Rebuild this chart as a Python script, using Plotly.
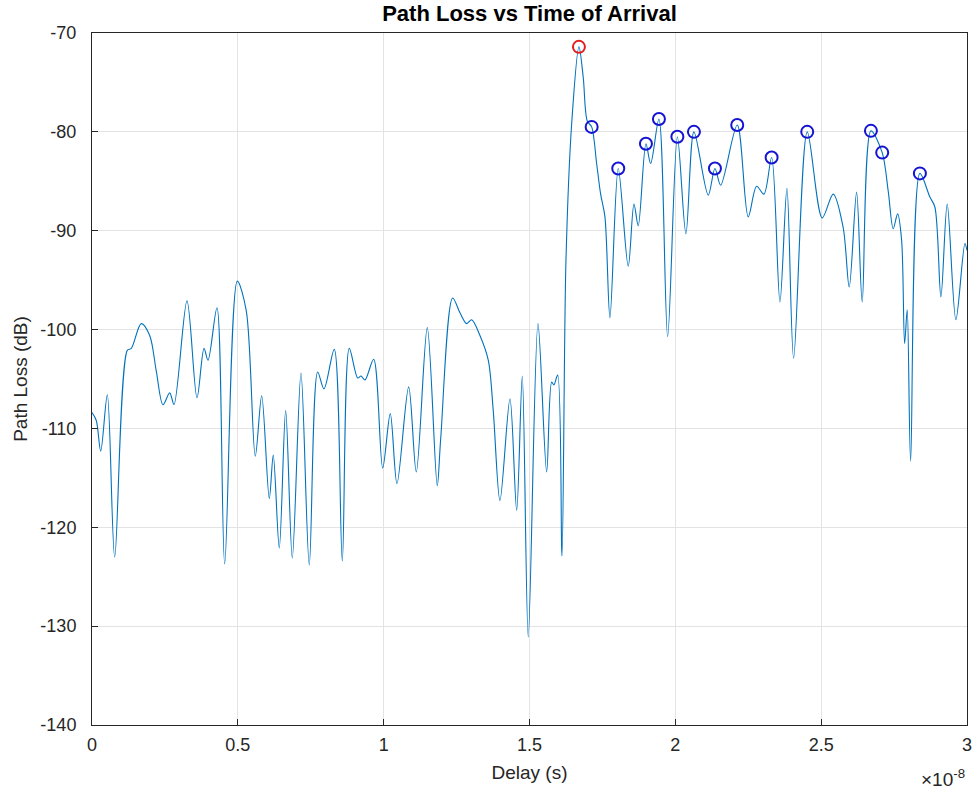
import numpy as np
import plotly.graph_objects as go

# Delay in nanoseconds, path loss in dB
delay_ns = [0.000, 0.147, 0.298, 0.525, 0.778, 1.210, 1.347, 1.690, 1.978, 2.204,
            2.434, 2.664, 2.811, 3.257, 3.600, 3.840, 3.977, 4.285, 4.549, 4.981,
            5.290, 5.598, 5.818, 6.078, 6.215, 6.421, 6.640, 6.867, 7.165, 7.449,
            7.737, 7.953, 8.306, 8.581, 8.821, 9.109, 9.222, 9.359, 9.657, 9.966,
            10.226, 10.456, 10.857, 11.118, 11.495, 11.837, 11.954, 12.365, 12.616, 12.845,
            13.017, 13.301, 13.586, 13.757, 13.987, 14.330, 14.560, 14.752, 14.957, 15.290,
            15.588, 15.760, 15.838, 15.965, 16.113, 16.250, 16.445, 16.695, 16.843, 16.980,
            17.131, 17.302, 17.439, 17.587, 17.758, 18.043, 18.385, 18.581, 18.728, 18.992,
            19.153, 19.438, 19.736, 20.070, 20.363, 20.638, 21.128, 21.358, 21.553, 22.122,
            22.499, 22.787, 23.037, 23.301, 23.586, 23.826, 24.056, 24.522, 25.036, 25.413,
            25.756, 25.962, 26.215, 26.407, 26.706, 27.093, 27.299, 27.470, 27.621, 27.759,
            27.861, 27.950, 28.067, 28.385, 28.728, 28.899, 29.105, 29.321, 29.619, 29.928,
            30.000]
path_loss_db = [-108.4, -109.2, -112.3, -106.6, -123.0, -102.1, -101.9, -99.4, -100.6, -104.2,
                -107.6, -106.4, -107.6, -97.1, -106.9, -101.9, -103.1, -97.8, -123.7, -95.1,
                -98.1, -112.8, -106.7, -117.1, -112.7, -122.1, -108.2, -123.1, -104.4, -123.8,
                -104.3, -106.0, -102.0, -123.4, -101.9, -104.9, -104.7, -105.1, -103.0, -114.0,
                -108.5, -115.6, -105.8, -114.4, -99.8, -115.8, -111.1, -96.8, -98.3, -99.4,
                -99.0, -100.6, -103.1, -108.2, -117.3, -107.0, -118.3, -104.7, -131.1, -99.4,
                -114.4, -105.3, -105.6, -104.6, -122.9, -93.0, -79.2, -71.4, -74.5, -78.9,
                -79.5, -83.2, -86.3, -88.6, -98.8, -83.7, -93.6, -87.3, -89.5, -81.2,
                -83.2, -78.7, -100.7, -80.5, -90.3, -80.0, -86.4, -83.7, -85.4, -79.3,
                -88.6, -85.5, -86.3, -82.6, -97.2, -85.7, -102.9, -80.0, -88.7, -86.3,
                -89.7, -95.7, -86.1, -97.2, -79.9, -82.1, -86.0, -89.8, -88.3, -91.0,
                -101.4, -98.0, -113.3, -84.2, -86.6, -87.6, -96.7, -87.3, -99.0, -91.3,
                -92.0]

# Strongest path (red) and other detected peaks (blue)
max_peak_ns = [16.695]
max_peak_db = [-71.4]
peaks_ns = [17.131, 18.043, 18.992, 19.438, 20.070, 20.638, 21.358, 22.122, 23.301,
            24.522, 26.706, 27.093, 28.385]
peaks_db = [-79.5, -83.7, -81.2, -78.7, -80.5, -80.0, -83.7, -79.3, -82.6,
            -80.0, -79.9, -82.1, -84.2]

x_tick_vals_s = [0, 0.5e-8, 1e-8, 1.5e-8, 2e-8, 2.5e-8, 3e-8]
x_tick_text = ["0", "0.5", "1", "1.5", "2", "2.5", "3"]
y_ticks = [-140, -130, -120, -110, -100, -90, -80, -70]
y_tick_text = ["-140", "-130", "-120", "-110", "-100", "-90", "-80", "-70"]

FONT = "Liberation Sans, Arial, Helvetica, sans-serif"

fig = go.Figure()
fig.add_trace(go.Scatter(
    x=np.array(delay_ns) * 1e-9, y=path_loss_db, mode="lines",
    line=dict(color="#0072BD", width=1.1, shape="spline", smoothing=0.9),
    showlegend=False, hoverinfo="skip"))
fig.add_trace(go.Scatter(
    x=np.array(peaks_ns) * 1e-9, y=peaks_db, mode="markers",
    marker=dict(symbol="circle-open", size=12, color="#1414d2", line=dict(width=2, color="#1414d2")),
    showlegend=False))
fig.add_trace(go.Scatter(
    x=np.array(max_peak_ns) * 1e-9, y=max_peak_db, mode="markers",
    marker=dict(symbol="circle-open", size=12, color="#e41e1e", line=dict(width=2, color="#e41e1e")),
    showlegend=False))

axis_common = dict(
    showline=True, linecolor="#262626", linewidth=1, mirror=True,
    ticks="inside", ticklen=6, tickcolor="#262626",
    showgrid=True, gridcolor="#e3e3e3", gridwidth=1, zeroline=False,
    automargin=False, ticklabelposition="outside", ticklabeloverflow="allow",
    tickfont=dict(family=FONT, size=18, color="#262626"),
)

fig.update_layout(
    width=972, height=791,
    margin=dict(l=92, r=5, t=33, b=66),
    paper_bgcolor="white", plot_bgcolor="white",
    title=dict(text="<b>Path Loss vs Time of Arrival</b>", x=0.5, xref="paper", xanchor="center",
               y=1 - 13 / 791, yref="container", yanchor="middle",
               font=dict(family=FONT, size=22, color="#000000")),
    xaxis=dict(range=[0, 3e-8], tickvals=x_tick_vals_s, ticktext=x_tick_text,
               ticklabelstandoff=3,
               title=dict(text="Delay (s)", font=dict(family=FONT, size=19, color="#262626"), standoff=12),
               **axis_common),
    yaxis=dict(range=[-140, -70], tickvals=y_ticks, ticktext=[t + "\u00a0" for t in y_tick_text],
               ticklabelstandoff=6,
               title=dict(text="Path Loss (dB)", font=dict(family=FONT, size=19, color="#262626"), standoff=7),
               **axis_common),
)
fig.add_annotation(text="×10<sup>-8</sup>", xref="paper", yref="paper", x=1.0, y=-0.076,
                   xanchor="right", yanchor="middle", showarrow=False, xshift=0,
                   font=dict(family=FONT, size=19, color="#262626"))

fig.write_html("out.html", config={"displayModeBar": False},
               post_script="document.body.style.margin='0';document.body.style.overflow='hidden';")
